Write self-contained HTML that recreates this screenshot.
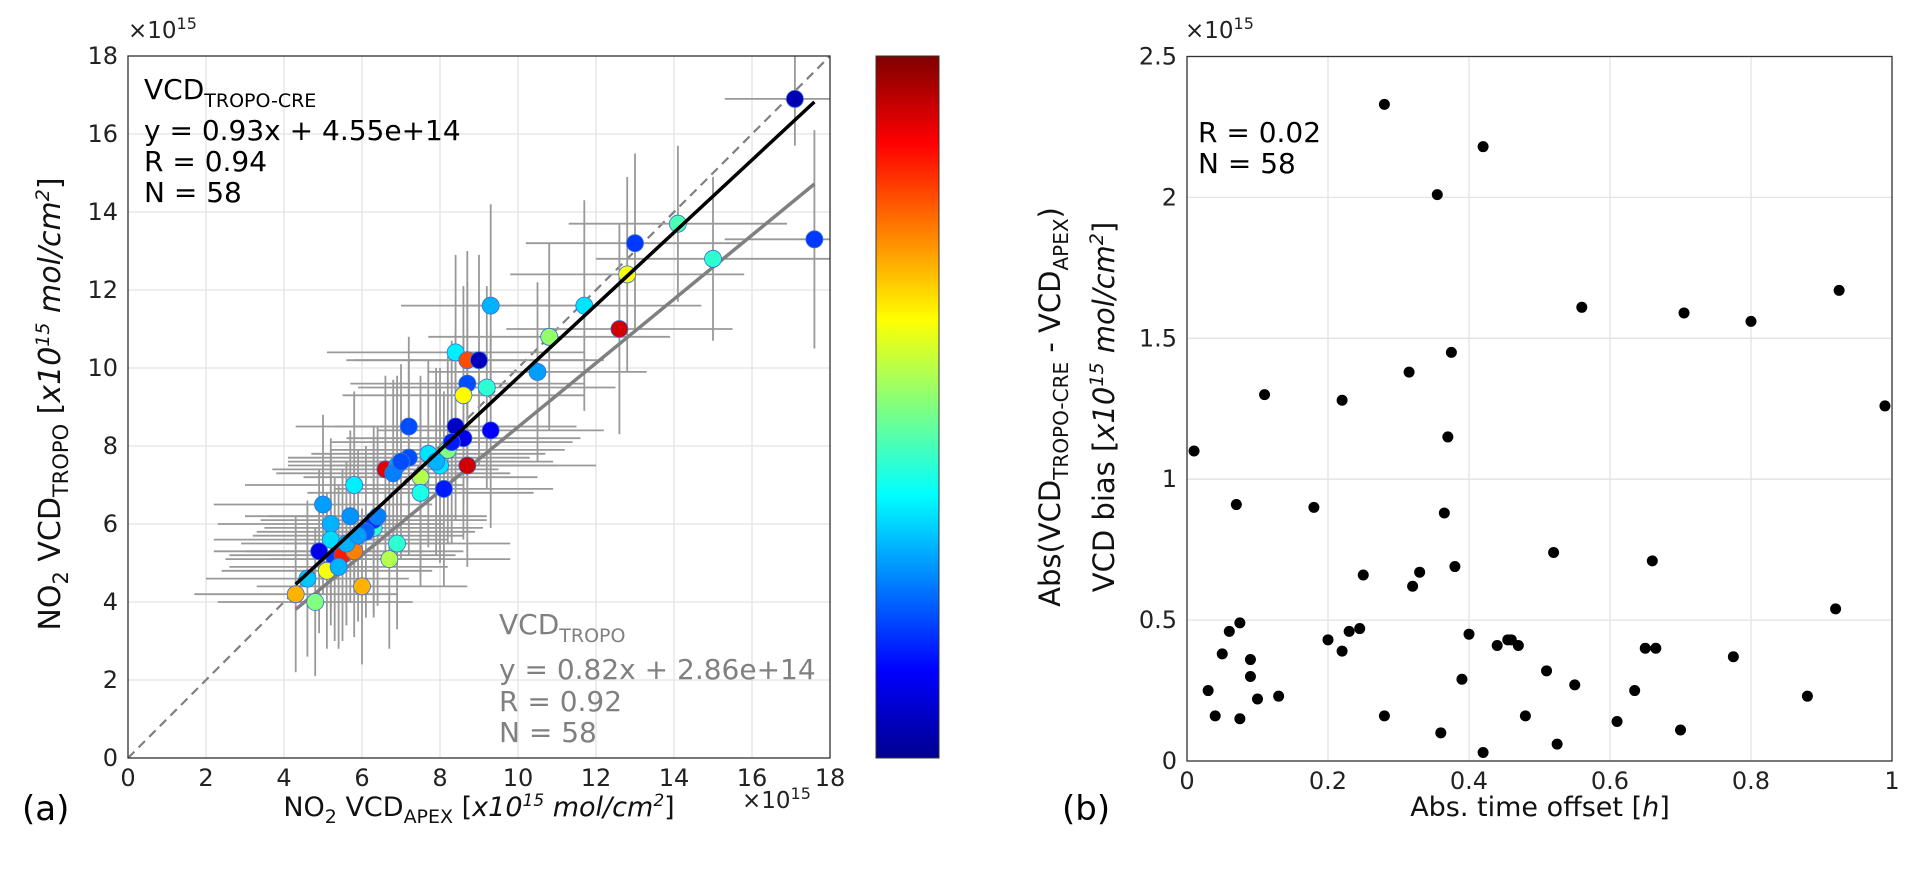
<!DOCTYPE html>
<html><head><meta charset="utf-8"><style>
body{margin:0;background:#fff;}
svg{display:block;font-family:"DejaVu Sans","Liberation Sans",sans-serif;}
</style></head><body>
<svg id="fig" width="1918" height="878" viewBox="0 0 1918 878">
<defs>
<linearGradient id="jet" x1="0" y1="1" x2="0" y2="0">
<stop offset="0" stop-color="#00008f"/><stop offset="0.125" stop-color="#0000ff"/>
<stop offset="0.375" stop-color="#00ffff"/><stop offset="0.625" stop-color="#ffff00"/>
<stop offset="0.875" stop-color="#ff0000"/><stop offset="1" stop-color="#800000"/>
</linearGradient>
<clipPath id="clipA"><rect x="128" y="56" width="702" height="702"/></clipPath>
</defs>
<g id="left"></g>
<g id="right"></g>
<rect x="876" y="56" width="63" height="702" fill="url(#jet)" stroke="#333" stroke-width="1"/>
<text x="22" y="820" font-size="34">(a)</text>
<text x="1062" y="820" font-size="34">(b)</text>
</svg>
<script>
// Panel (a) data
const apexX=[17.1,17.6,14.1,15.0,13.0,12.8,12.6,11.7,10.8,10.5,9.3,8.4,8.7,9.0,8.7,8.6,9.2,9.3,8.4,8.6,7.2,8.2,8.1,8.7,6.6,7.2,6.9,7.5,7.5,8.0,5.8,6.9,6.7,6.3,6.3,5.7,5.0,5.2,5.2,4.9,5.3,5.5,5.8,5.1,4.8,4.3,6.0,5.4,6.8,7.0,7.7,8.3,5.6,6.1,4.6,7.9,6.4,5.9];
const troX=[16.9,13.3,13.7,12.8,13.2,12.4,11.0,11.6,10.8,9.9,11.6,10.4,10.2,10.2,9.6,9.3,9.5,8.4,8.5,8.2,8.5,7.9,6.9,7.5,7.4,7.7,7.5,7.2,6.8,7.5,7.0,5.5,5.1,5.9,6.1,6.2,6.5,6.0,5.6,5.3,5.1,5.2,5.3,4.8,4.0,4.2,4.4,4.9,7.3,7.6,7.8,8.1,5.5,5.8,4.6,7.6,6.2,5.7];
const colorVals=[0.05,0.18,0.45,0.42,0.18,0.62,0.92,0.35,0.52,0.28,0.3,0.36,0.8,0.06,0.2,0.63,0.42,0.12,0.07,0.1,0.2,0.5,0.15,0.92,0.9,0.2,0.28,0.55,0.4,0.35,0.36,0.42,0.55,0.42,0.18,0.27,0.28,0.3,0.34,0.1,0.18,0.85,0.75,0.62,0.5,0.7,0.7,0.3,0.25,0.2,0.35,0.15,0.3,0.22,0.32,0.3,0.25,0.28];
const errX=[1.8,2.3,2.8,3.0,2.8,3.0,2.9,3.0,3.1,2.8,2.3,3.3,3.1,3.2,3.0,3.1,3.3,2.9,3.1,3.0,2.9,3.0,2.8,3.3,2.9,3.1,2.8,3.0,2.9,3.0,2.8,2.9,3.1,2.8,2.9,2.7,2.8,2.9,3.0,2.7,2.8,2.9,2.8,2.7,2.5,2.6,2.7,2.8,3.0,2.9,3.0,3.1,2.7,2.8,2.6,3.0,2.8,2.7];
const errY=[1.2,2.8,2.0,2.1,2.3,2.5,2.7,2.7,2.4,2.3,2.6,2.5,2.8,2.7,2.6,2.8,2.6,2.5,2.4,2.6,2.3,2.4,2.5,2.6,2.4,2.5,2.3,2.6,2.4,2.5,2.4,2.2,2.3,2.3,2.4,2.2,2.3,2.2,2.2,2.1,2.1,2.2,2.2,2.0,1.9,2.0,2.0,2.1,2.4,2.5,2.4,2.6,2.1,2.2,2.0,2.4,2.3,2.2];
const fitCre=[0.93,0.455];
const fitTro=[0.82,0.286];
const ticksA=[0,2,4,6,8,10,12,14,16,18];
// Panel (b) data
const timeOff=[0.01,0.03,0.04,0.05,0.06,0.07,0.075,0.075,0.09,0.09,0.10,0.11,0.13,0.18,0.20,0.22,0.22,0.23,0.245,0.25,0.28,0.28,0.315,0.32,0.33,0.355,0.36,0.365,0.37,0.375,0.38,0.39,0.40,0.42,0.42,0.44,0.46,0.47,0.48,0.51,0.52,0.525,0.55,0.56,0.61,0.635,0.65,0.66,0.665,0.70,0.705,0.775,0.80,0.88,0.92,0.925,0.99,0.455];
const biasVal=[1.10,0.25,0.16,0.38,0.46,0.91,0.49,0.15,0.36,0.30,0.22,1.30,0.23,0.90,0.43,1.28,0.39,0.46,0.47,0.66,2.33,0.16,1.38,0.62,0.67,2.01,0.10,0.88,1.15,1.45,0.69,0.29,0.45,2.18,0.03,0.41,0.43,0.41,0.16,0.32,0.74,0.06,0.27,1.61,0.14,0.25,0.40,0.71,0.40,0.11,1.59,0.37,1.56,0.23,0.54,1.67,1.26,0.43];
const ticksBx=[0,0.2,0.4,0.6,0.8,1];
const ticksBy=[0,0.5,1,1.5,2,2.5];
const tickLabBy=["0","0.5","1","1.5","2","2.5"];

const NS="http://www.w3.org/2000/svg";
function mk(parent,tag,attrs,text){const e=document.createElementNS(NS,tag);for(const k in attrs)e.setAttribute(k,attrs[k]);if(text!==undefined)e.innerHTML=text;parent.appendChild(e);return e;}
function jet(v){const r=Math.min(Math.max(Math.min(4*v-1.5,-4*v+4.5),0),1),g=Math.min(Math.max(Math.min(4*v-0.5,-4*v+3.5),0),1),b=Math.min(Math.max(Math.min(4*v+0.5,-4*v+2.5),0),1);return `rgb(${Math.round(r*255)},${Math.round(g*255)},${Math.round(b*255)})`;}

// Panel A
const L=document.getElementById('left');
const ax={x0:128,x1:830,y0:758,y1:56};
const sxA=v=>ax.x0+(v-0)/18*(ax.x1-ax.x0), syA=v=>ax.y0-(v-0)/18*(ax.y0-ax.y1);
ticksA.forEach(t=>{
 let g=mk(L,'line',{x1:sxA(t),x2:sxA(t),y1:ax.y0,y2:ax.y1,stroke:'#e3e3e3','stroke-width':1.3});
 
 g=mk(L,'line',{x1:ax.x0,x2:ax.x1,y1:syA(t),y2:syA(t),stroke:'#e3e3e3','stroke-width':1.3});
 
 let tl=mk(L,'text',{x:sxA(t),y:ax.y0+28,'font-size':24,'text-anchor':'middle',fill:'#222'},String(t));
 
 tl=mk(L,'text',{x:ax.x0-10,y:syA(t)+8,'font-size':24,'text-anchor':'end',fill:'#222'},String(t));
 
});
const EG=mk(L,'g',{'clip-path':'url(#clipA)'});

let ln=mk(EG,'line',{x1:sxA(0),y1:syA(0),x2:sxA(18),y2:syA(18),stroke:'#808080','stroke-width':2.2,'stroke-dasharray':'9,6'});

apexX.forEach((x,i)=>{
 let e=mk(EG,'line',{x1:sxA(x-errX[i]),x2:sxA(x+errX[i]),y1:syA(troX[i]),y2:syA(troX[i]),stroke:'#999','stroke-width':1.8});
 
 e=mk(EG,'line',{x1:sxA(x),x2:sxA(x),y1:syA(troX[i]-errY[i]),y2:syA(troX[i]+errY[i]),stroke:'#999','stroke-width':1.8});
 
});
const xmin=Math.min(...apexX),xmax=Math.max(...apexX);
ln=mk(EG,'line',{x1:sxA(xmin),y1:syA(fitTro[0]*xmin+fitTro[1]),x2:sxA(xmax),y2:syA(fitTro[0]*xmax+fitTro[1]),stroke:'#808080','stroke-width':3.5});

apexX.forEach((x,i)=>{
 const c=mk(EG,'circle',{cx:sxA(x),cy:syA(troX[i]),r:8.5,fill:jet(colorVals[i]),stroke:'#3a6fd0','stroke-width':0.8});
 
});
ln=mk(EG,'line',{x1:sxA(xmin),y1:syA(fitCre[0]*xmin+fitCre[1]),x2:sxA(xmax),y2:syA(fitCre[0]*xmax+fitCre[1]),stroke:'#000','stroke-width':3.5});

let bx=mk(L,'rect',{x:ax.x0,y:ax.y1,width:ax.x1-ax.x0,height:ax.y0-ax.y1,fill:'none',stroke:'#333','stroke-width':1.3});


// Panel B
const R=document.getElementById('right');
const bxA={x0:1187,x1:1892,y0:761,y1:56.5};
const sxB=v=>bxA.x0+v*(bxA.x1-bxA.x0), syB=v=>bxA.y0-v/2.5*(bxA.y0-bxA.y1);
ticksBx.forEach(t=>{
 let g=mk(R,'line',{x1:sxB(t),x2:sxB(t),y1:bxA.y0,y2:bxA.y1,stroke:'#e3e3e3','stroke-width':1.3});
 
 let tl=mk(R,'text',{x:sxB(t),y:bxA.y0+28,'font-size':24,'text-anchor':'middle',fill:'#222'},String(t));
 
});
ticksBy.forEach((t,i)=>{
 let g=mk(R,'line',{x1:bxA.x0,x2:bxA.x1,y1:syB(t),y2:syB(t),stroke:'#e3e3e3','stroke-width':1.3});
 
 let tl=mk(R,'text',{x:bxA.x0-10,y:syB(t)+8,'font-size':24,'text-anchor':'end',fill:'#222'},tickLabBy[i]);
 
});
timeOff.forEach((t,i)=>{
 const c=mk(R,'circle',{cx:sxB(t),cy:syB(biasVal[i]),r:5.5,fill:'#000'});
 
});
bx=mk(R,'rect',{x:bxA.x0,y:bxA.y1,width:bxA.x1-bxA.x0,height:bxA.y0-bxA.y1,fill:'none',stroke:'#333','stroke-width':1.3});

</script>
<svg width="1918" height="878" style="position:absolute;left:0;top:0;font-family:'DejaVu Sans','Liberation Sans',sans-serif">
<text x="128" y="38" font-size="23" fill="#222">×10<tspan font-size="16" dy="-9">15</tspan></text>
<text x="742" y="808" font-size="23" fill="#222">×10<tspan font-size="16" dy="-9">15</tspan></text>
<text x="1185" y="38" font-size="23" fill="#222">×10<tspan font-size="16" dy="-9">15</tspan></text>
<text transform="translate(60,404) rotate(-90)" font-size="30" text-anchor="middle" fill="#111">NO<tspan font-size="21" dy="8">2</tspan><tspan dy="-8"> VCD</tspan><tspan font-size="21" dy="8">TROPO</tspan><tspan dy="-8"> [</tspan><tspan font-style="italic">x10</tspan><tspan font-style="italic" font-size="19" dy="-11">15</tspan><tspan font-style="italic" dy="11"> mol/cm</tspan><tspan font-style="italic" font-size="19" dy="-11">2</tspan><tspan dy="11">]</tspan></text>
<text x="479" y="816" font-size="27" text-anchor="middle" fill="#111">NO<tspan font-size="19" dy="7">2</tspan><tspan dy="-7"> VCD</tspan><tspan font-size="19" dy="7">APEX</tspan><tspan dy="-7"> [</tspan><tspan font-style="italic">x10</tspan><tspan font-style="italic" font-size="17" dy="-10">15</tspan><tspan font-style="italic" dy="10"> mol/cm</tspan><tspan font-style="italic" font-size="17" dy="-10">2</tspan><tspan dy="10">]</tspan></text>
<g font-size="28" fill="#000">
<text x="144" y="99">VCD<tspan font-size="19" dy="8">TROPO-CRE</tspan></text>
<text x="144" y="140">y = 0.93x + 4.55e+14</text>
<text x="144" y="171">R = 0.94</text>
<text x="144" y="202">N = 58</text>
</g>
<g font-size="28" fill="#808080">
<text x="499" y="634">VCD<tspan font-size="19" dy="8">TROPO</tspan></text>
<text x="499" y="679">y = 0.82x + 2.86e+14</text>
<text x="499" y="711">R = 0.92</text>
<text x="499" y="742">N = 58</text>
</g>
<g font-size="28" fill="#000">
<text x="1198" y="142">R = 0.02</text>
<text x="1198" y="173">N = 58</text>
</g>
<text transform="translate(1060,407) rotate(-90)" font-size="29" text-anchor="middle" fill="#111">Abs(VCD<tspan font-size="20" dy="8">TROPO-CRE</tspan><tspan dy="-8"> - VCD</tspan><tspan font-size="20" dy="8">APEX</tspan><tspan dy="-8">)</tspan></text>
<text transform="translate(1114,407) rotate(-90)" font-size="29" text-anchor="middle" fill="#111">VCD bias [<tspan font-style="italic">x10</tspan><tspan font-style="italic" font-size="19" dy="-11">15</tspan><tspan font-style="italic" dy="11"> mol/cm</tspan><tspan font-style="italic" font-size="19" dy="-11">2</tspan><tspan dy="11">]</tspan></text>
<text x="1540" y="816" font-size="27" text-anchor="middle" fill="#111">Abs. time offset [<tspan font-style="italic">h</tspan>]</text>
</svg>
</body></html>
